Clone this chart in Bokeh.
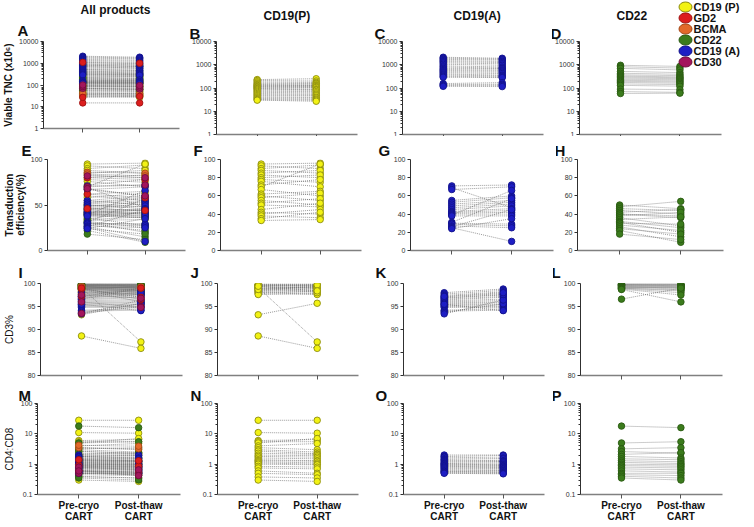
import numpy as np
from bokeh.plotting import figure
from bokeh.layouts import row, column
from bokeh.models import (ColumnDataSource, Range1d, FixedTicker, CustomJSTickFormatter,
                          CustomLabelingPolicy, Title)
from bokeh.core.properties import value
from bokeh.embed import file_html
from bokeh.resources import INLINE

FONT = "Liberation Sans"

# ---------------- texts ----------------
products = ["CD19 (P)", "GD2", "BCMA", "CD22", "CD19 (A)", "CD30"]
column_titles = ["All products", "CD19(P)", "CD19(A)", "CD22"]
panel_letters = [["A", "B", "C", "D"], ["E", "F", "G", "H"],
                 ["I", "J", "K", "L"], ["M", "N", "O", "P"]]
x_labels = ["Pre-cryo\nCART", "Post-thaw\nCART"]
y_titles = ["Viable TNC (x10\u2076)", "Transduction\nefficiency(%)", "CD3%", "CD4:CD8"]

# ---------------- tick values ----------------
tnc_ticks = [1, 10, 100, 1000, 10000]
te_ticks_all = [0, 50, 100]
te_ticks = [0, 20, 40, 60, 80, 100]
cd3_ticks = [80, 85, 90, 95, 100]
ratio_ticks = [0.1, 1, 10, 100]

# ---------------- data: CD19 (P) ----------------
cd19p_tnc_pre = [230, 210, 185, 165, 150, 140, 130, 122, 115, 108, 100, 95, 88, 80, 72, 65, 58, 52, 47, 42, 38, 35, 32, 30]
cd19p_tnc_post = [250, 200, 175, 160, 150, 135, 130, 125, 115, 110, 105, 92, 85, 80, 70, 62, 55, 50, 46, 40, 37, 33, 30, 27]
cd19p_te_pre = [95, 93, 90, 88, 85, 83, 80, 78, 76, 72, 70, 67, 62, 60, 58, 55, 52, 50, 45, 42, 40, 38, 35, 33]
cd19p_te_post = [96, 90, 94, 85, 88, 80, 83, 75, 70, 78, 95, 60, 65, 55, 63, 50, 57, 48, 52, 40, 45, 36, 42, 34]
cd19p_cd3_pre = [99.9, 99.8, 99.7, 99.6, 99.5, 99.4, 99.3, 99.2, 99.0, 98.9, 98.8, 98.6, 98.5, 98.3, 98.2, 98.0, 97.8, 97.6, 99.1, 98.7, 99.6, 99.4, 93.2, 88.6]
cd19p_cd3_post = [99.8, 99.9, 99.5, 99.6, 99.3, 99.5, 99.0, 99.1, 98.8, 99.2, 98.5, 98.9, 98.2, 98.6, 97.8, 98.3, 97.6, 98.0, 87.3, 99.4, 99.7, 98.4, 95.7, 85.9]
cd19p_ratio_pre = [28, 11, 6.0, 5.5, 5.0, 4.0, 3.5, 3.0, 2.7, 2.3, 2.0, 1.8, 1.6, 1.4, 1.3, 1.2, 1.1, 1.0, 0.85, 0.75, 0.6, 0.5, 0.38, 0.3]
cd19p_ratio_post = [28, 10.5, 6.5, 5.5, 7.0, 4.8, 3.0, 2.5, 2.2, 2.1, 1.9, 1.7, 1.5, 1.3, 1.25, 1.1, 1.0, 0.95, 0.8, 0.7, 0.5, 0.45, 0.35, 0.27]

# ---------------- data: CD19 (A) ----------------
cd19a_tnc_pre = [2100, 1900, 1700, 1500, 1350, 1200, 1050, 900, 800, 700, 620, 560, 500, 450, 400, 360, 320, 290, 155, 140, 128, 118]
cd19a_tnc_post = [1900, 1750, 1600, 1400, 1250, 1100, 950, 800, 720, 680, 600, 540, 480, 420, 360, 330, 300, 280, 170, 145, 130, 115]
cd19a_te_pre = [71, 69, 67, 55, 53, 51, 49, 47, 45, 43, 42, 41, 40, 39, 38, 31, 30, 29, 27, 26, 25, 24]
cd19a_te_post = [72, 47, 70, 60, 58, 55, 53, 51, 49, 46, 44, 42, 40, 66, 38, 57, 29, 27, 25, 45, 10, 35]
cd19a_cd3_pre = [98.0, 97.7, 97.4, 97.1, 96.8, 96.6, 96.4, 96.2, 96.0, 95.8, 95.6, 95.4, 95.2, 95.0, 94.8, 94.2, 94.0, 93.7, 93.4, 95.5, 96.9, 97.2]
cd19a_cd3_post = [98.8, 98.5, 98.2, 97.8, 97.5, 97.2, 97.0, 96.6, 96.3, 96.0, 95.8, 95.5, 95.3, 95.0, 94.8, 94.5, 94.2, 95.6, 96.4, 94.1, 97.6, 98.0]
cd19a_ratio_pre = [2.0, 1.8, 1.7, 1.5, 1.4, 1.3, 1.2, 1.1, 1.05, 1.0, 0.95, 0.9, 0.85, 0.8, 0.75, 0.7, 0.65, 0.6, 0.58, 0.55, 0.52, 0.5]
cd19a_ratio_post = [2.0, 1.9, 1.6, 1.5, 1.3, 1.25, 1.2, 1.1, 1.0, 0.95, 0.9, 0.85, 0.8, 0.78, 0.72, 0.68, 0.62, 0.6, 0.56, 0.53, 0.5, 0.48]

# ---------------- data: CD22 ----------------
cd22_tnc_pre = [950, 820, 700, 520, 430, 370, 330, 300, 270, 240, 215, 195, 175, 150, 130, 90, 70, 58]
cd22_tnc_post = [850, 720, 600, 460, 390, 340, 300, 275, 250, 225, 200, 180, 160, 140, 120, 85, 65, 60]
cd22_te_pre = [50, 48, 46, 44, 42, 40, 40, 38, 36, 34, 32, 31, 30, 28, 26, 24, 22, 18]
cd22_te_post = [46, 54, 44, 40, 45, 38, 36, 42, 27, 37, 25, 20, 29, 22, 15, 18, 9, 12]
cd22_cd3_pre = [100, 99.9, 99.8, 99.8, 99.7, 99.6, 99.5, 99.5, 99.4, 99.3, 99.2, 99.1, 99.0, 99.0, 98.9, 98.8, 98.7, 96.6]
cd22_cd3_post = [99.9, 99.8, 99.9, 99.6, 99.5, 99.7, 99.3, 99.4, 99.1, 99.0, 98.8, 99.2, 98.6, 98.4, 98.0, 97.5, 96.0, 99.0]
cd22_ratio_pre = [18, 5.0, 3.2, 2.6, 2.1, 1.8, 1.5, 1.3, 1.15, 1.0, 0.9, 0.8, 0.7, 0.6, 0.5, 0.45, 0.4, 0.35]
cd22_ratio_post = [16, 5.5, 3.5, 2.3, 2.4, 1.6, 1.4, 1.2, 1.05, 0.95, 0.85, 0.75, 0.65, 0.55, 0.5, 0.42, 0.35, 0.3]

# ---------------- data: GD2 ----------------
gd2_tnc_pre = [15, 27, 1100]
gd2_tnc_post = [15, 30, 1000]
gd2_te_pre = [80, 62, 46]
gd2_te_post = [78, 58, 44]
gd2_cd3_pre = [98.8, 97.2, 99.0]
gd2_cd3_post = [97.0, 99.0, 96.5]
gd2_ratio_pre = [0.62, 0.9, 1.4]
gd2_ratio_post = [0.55, 0.85, 1.3]

# ---------------- data: BCMA ----------------
bcma_tnc_pre = [36, 42]
bcma_tnc_post = [34, 40]
bcma_te_pre = [86, 84]
bcma_te_post = [85, 82]
bcma_cd3_pre = [99.5, 99.2]
bcma_cd3_post = [99.3, 99.0]
bcma_ratio_pre = [3.5, 4.2]
bcma_ratio_post = [3.2, 3.9]

# ---------------- data: CD30 ----------------
cd30_tnc_pre = [70, 85, 100]
cd30_tnc_post = [65, 80, 95]
cd30_te_pre = [82, 70, 68]
cd30_te_post = [80, 72, 60]
cd30_cd3_pre = [93.5, 97.5, 96.0]
cd30_cd3_post = [95.0, 96.8, 94.8]
cd30_ratio_pre = [0.5, 0.8, 0.6]
cd30_ratio_post = [0.45, 0.65, 0.42]

series = {
    "CD19 (P)": {"tnc": (cd19p_tnc_pre, cd19p_tnc_post), "te": (cd19p_te_pre, cd19p_te_post),
                 "cd3": (cd19p_cd3_pre, cd19p_cd3_post), "ratio": (cd19p_ratio_pre, cd19p_ratio_post)},
    "CD19 (A)": {"tnc": (cd19a_tnc_pre, cd19a_tnc_post), "te": (cd19a_te_pre, cd19a_te_post),
                 "cd3": (cd19a_cd3_pre, cd19a_cd3_post), "ratio": (cd19a_ratio_pre, cd19a_ratio_post)},
    "CD22": {"tnc": (cd22_tnc_pre, cd22_tnc_post), "te": (cd22_te_pre, cd22_te_post),
             "cd3": (cd22_cd3_pre, cd22_cd3_post), "ratio": (cd22_ratio_pre, cd22_ratio_post)},
    "GD2": {"tnc": (gd2_tnc_pre, gd2_tnc_post), "te": (gd2_te_pre, gd2_te_post),
            "cd3": (gd2_cd3_pre, gd2_cd3_post), "ratio": (gd2_ratio_pre, gd2_ratio_post)},
    "BCMA": {"tnc": (bcma_tnc_pre, bcma_tnc_post), "te": (bcma_te_pre, bcma_te_post),
             "cd3": (bcma_cd3_pre, bcma_cd3_post), "ratio": (bcma_ratio_pre, bcma_ratio_post)},
    "CD30": {"tnc": (cd30_tnc_pre, cd30_tnc_post), "te": (cd30_te_pre, cd30_te_post),
             "cd3": (cd30_cd3_pre, cd30_cd3_post), "ratio": (cd30_ratio_pre, cd30_ratio_post)},
}

fill_colors = {"CD19 (P)": "#f2f214", "GD2": "#dc1e1e", "BCMA": "#e2692a",
               "CD22": "#3b7b1c", "CD19 (A)": "#1e1ec4", "CD30": "#a3155c"}
edge_colors = {"CD19 (P)": "#8c8c10", "GD2": "#a01212", "BCMA": "#a44716",
               "CD22": "#2a5a12", "CD19 (A)": "#12128a", "CD30": "#700c3c"}

col_products = [["CD19 (P)", "CD22", "CD19 (A)", "BCMA", "GD2", "CD30"],
                ["CD19 (P)"], ["CD19 (A)"], ["CD22"]]
metrics = ["tnc", "te", "cd3", "ratio"]
y_types = ["log", "linear", "linear", "log"]
y_limits = [(1, 10000), (0, 100), (80, 100), (0.1, 100)]


def minor_log(lo, hi):
    out = []
    e = int(np.floor(np.log10(lo)))
    while 10 ** e < hi:
        for m in range(2, 10):
            v = m * 10 ** e
            if lo < v < hi:
                out.append(v)
        e += 1
    return out


# ---------------- layout geometry (pixels) ----------------
COL_START = [8, 190, 373, 556]
COL_W = [182, 183, 183, 190]
LEFT = [[39, 30, 33, 27], [39, 30, 37, 21], [35, 30, 33, 27], [32, 30, 33, 27]]
FRAME_W = [[136, 141, 141, 142], [138, 141, 143, 146], [142, 141, 141, 142], [143, 141, 141, 142]]
TOP = [[38, 32, 32, 32], [23] * 4, [25] * 4, [20] * 4]
FRAME_H = [[87, 93, 93, 93], [91] * 4, [92] * 4, [91] * 4]
BOTTOM = [7, 6, 6, 25]
LETTER_X = [21, 193, 378, 554]
LETTER_STANDOFF = [[6, 0, 0, 0], [1, 1, 1, 1], [6, 6, 6, 6], [0, 0, 0, 0]]
HEADER_LEFT = [84, 267, 457, 620]
YLABEL_STANDOFF = [2, 2, 6, 3]
LEGEND_W = 66
LEGEND_H = 72
LEGEND_ROW = 11
LEGEND_FIRST = 6.5

hide_labels = CustomLabelingPolicy(
    code="for (let i = 0; i < indices.size; i++) { indices.unset(i) }; return indices")


def make_panel(r, c):
    left = LEFT[r][c]
    fw = FRAME_W[r][c]
    fh = FRAME_H[r][c]
    right = COL_W[c] - left - fw
    p = figure(frame_width=fw, frame_height=fh,
               min_border_left=left, min_border_right=right,
               min_border_top=TOP[r][c], min_border_bottom=BOTTOM[r],
               x_range=Range1d(0.31, 2.70), y_range=Range1d(*y_limits[r]),
               y_axis_type=y_types[r], output_backend="svg",
               toolbar_location=None, tools="", align="start")
    p.outline_line_color = None
    p.xgrid.visible = False
    p.ygrid.visible = False
    p.background_fill_color = "white"
    p.border_fill_color = "white"

    frame_left = COL_START[c] + left

    # titles: panel letter (closest to frame) and, in the top row, the column header
    letter = Title(text=panel_letters[r][c], align="left", offset=LETTER_X[c] - frame_left,
                   standoff=LETTER_STANDOFF[r][c], text_font=FONT, text_font_size="15px",
                   text_font_style="bold", text_color="#111111", text_line_height=1.0)
    if r == 0:
        p.title.text = column_titles[c]
        p.title.align = "left"
        p.title.offset = HEADER_LEFT[c] - frame_left
        p.title.standoff = 0
        p.title.text_font = FONT
        p.title.text_font_size = "12px"
        p.title.text_font_style = "bold"
        p.title.text_color = "#111111"
        p.title.text_line_height = 1.0
        p.add_layout(letter, "above")
    else:
        p.title = letter

    # x axis
    xa = p.xaxis[0]
    xa.ticker = FixedTicker(ticks=[1, 2], minor_ticks=[])
    xa.axis_line_color = "#808080"
    xa.axis_line_width = 1.3
    xa.major_tick_line_color = "#555555"
    xa.major_tick_out = 4
    xa.major_tick_in = 0
    xa.minor_tick_line_color = None
    if r == 3:
        xa.formatter = CustomJSTickFormatter(args=dict(labels=x_labels),
                                             code="return labels[Math.round(tick) - 1]")
        xa.major_label_text_font = FONT
        xa.major_label_text_font_size = "10px"
        xa.major_label_text_font_style = "bold"
        xa.major_label_text_color = "#111111"
        xa.major_label_text_line_height = 1.0
        xa.major_label_standoff = 1
    else:
        xa.major_label_policy = hide_labels
        xa.major_label_text_font_size = "1px"
        xa.major_label_standoff = 0

    # y axis
    ya = p.yaxis[0]
    if r == 0:
        ticks, minor = tnc_ticks, minor_log(1, 10000)
    elif r == 1:
        ticks, minor = (te_ticks_all if c == 0 else te_ticks), []
    elif r == 2:
        ticks, minor = cd3_ticks, []
    else:
        ticks, minor = ratio_ticks, minor_log(0.1, 100)
    ya.ticker = FixedTicker(ticks=ticks, minor_ticks=minor)
    ya.formatter = CustomJSTickFormatter(code="return String(tick)")
    ya.axis_line_color = "#303030"
    ya.axis_line_width = 1
    ya.major_tick_line_color = "#303030"
    ya.major_tick_out = 3
    ya.major_tick_in = 0
    ya.minor_tick_line_color = "#303030"
    ya.minor_tick_out = 2
    ya.minor_tick_in = 0
    ya.major_label_text_font = FONT
    ya.major_label_text_font_size = "7px"
    ya.major_label_text_color = "#333333"
    ya.major_label_standoff = 2
    if c == 0:
        ya.axis_label = y_titles[r]
        ya.axis_label_text_font = FONT
        ya.axis_label_text_font_size = "10px"
        ya.axis_label_text_font_style = "bold" if r < 2 else "normal"
        ya.axis_label_text_color = "#111111"
        ya.axis_label_text_line_height = 1.0
        ya.axis_label_standoff = YLABEL_STANDOFF[r]

    # data
    metric = metrics[r]
    sources = []
    for prod in col_products[c]:
        pre, post = series[prod][metric]
        sources.append((prod, ColumnDataSource(dict(pre=pre, post=post))))
    for prod, src in sources:
        p.segment(x0=1, y0="pre", x1=2, y1="post", source=src,
                  line_color="#707070", line_width=0.7, line_dash="1 1")
    for prod, src in sources:
        for xpos, col in ((1, "pre"), (2, "post")):
            p.scatter(x=xpos, y=col, source=src, size=6.5, marker="circle",
                      fill_color=fill_colors[prod], line_color=edge_colors[prod],
                      line_width=0.9)
    return p


def make_legend():
    n = len(products)
    top = -LEGEND_FIRST / LEGEND_ROW
    bottom = top + LEGEND_H / LEGEND_ROW
    lf = figure(frame_width=LEGEND_W, frame_height=LEGEND_H, title=None,
                min_border_left=0, min_border_right=0, min_border_top=0, min_border_bottom=0,
                x_range=Range1d(0, LEGEND_W), y_range=Range1d(bottom, top),
                x_axis_location=None, y_axis_location=None,
                toolbar_location=None, tools="", output_backend="svg", align="start")
    lf.outline_line_color = None
    lf.xgrid.visible = False
    lf.ygrid.visible = False
    lf.background_fill_alpha = 0
    lf.border_fill_alpha = 0
    src = ColumnDataSource(dict(label=products, idx=list(range(n)),
                                fill=[fill_colors[q] for q in products],
                                edge=[edge_colors[q] for q in products]))
    lf.ellipse(x=9, y="idx", width=13, height=10, width_units="screen", height_units="screen",
               fill_color="fill", line_color="edge", line_width=1, source=src)
    lf.text(x=17, y="idx", text="label", source=src, text_font=value(FONT),
            text_font_size="11px", text_font_style="bold", text_color="#111111",
            text_baseline="middle", text_align="left")
    # wrapped in its own column so that it is not frame-aligned with the panels,
    # and pulled left (negative margin) to sit over the top-right corner of panel D
    return column(lf, margin=(0, 0, 0, -LEGEND_W), align="start")


rows = []
for r in range(4):
    figs = [make_panel(r, c) for c in range(4)]
    if r == 0:
        figs.append(make_legend())
    rows.append(row(*figs))
layout = column(*rows)

open("out.html", "w").write(file_html(layout, INLINE))
